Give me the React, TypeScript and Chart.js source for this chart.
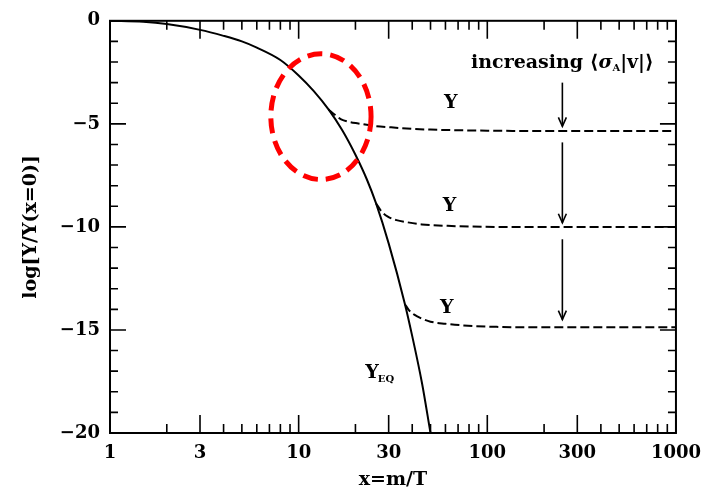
import React, { useEffect, useRef } from 'react';
import { Chart, registerables } from 'chart.js';
Chart.register(...registerables);

// Equilibrium curve Y_EQ
const xEq = [1, 1.5, 2, 3, 4, 5, 6, 8, 10, 12, 14.4, 17, 20, 23, 25.7, 30, 36.6, 40, 45, 50];
const yEq = [0, -0.05, -0.16, -0.44, -0.73, -1.0, -1.3, -1.9, -2.65, -3.4, -4.3, -5.3, -6.5, -7.7, -8.85, -10.8, -13.75, -15.3, -17.55, -20];

// Freeze-out curves Y (dashed)
const xY1 = [14.4, 15.5, 16.8, 18.5, 20.7, 25, 30.9, 40, 50, 69, 100, 200, 400, 1000];
const yY1 = [-4.3, -4.55, -4.78, -4.9, -4.98, -5.1, -5.17, -5.24, -5.28, -5.31, -5.33, -5.35, -5.35, -5.35];
const xY2 = [25.7, 27.5, 29.7, 33, 37.9, 45, 61.6, 80, 112, 200, 400, 1000];
const yY2 = [-8.85, -9.25, -9.5, -9.67, -9.78, -9.88, -9.95, -9.98, -10.0, -10.0, -10.0, -10.0];
const xY3 = [36.6, 38.5, 41, 45, 50, 60, 75, 112, 200, 400, 1000];
const yY3 = [-13.75, -14.05, -14.26, -14.45, -14.6, -14.7, -14.78, -14.85, -14.87, -14.87, -14.87];

// Axis ticks
const xMajorTicks = [1, 3, 10, 30, 100, 300, 1000];
const xMinorTicks = [2, 4, 5, 6, 7, 8, 9, 20, 40, 50, 60, 70, 80, 90, 200, 400, 500, 600, 700, 800, 900];
const yMajorTicks = [-20, -15, -10, -5, 0];
const yMinorTicks = [-19, -18, -17, -16, -14, -13, -12, -11, -9, -8, -7, -6, -4, -3, -2, -1];

// Annotation anchors (data coordinates)
const yLabelX = [64, 63, 61];
const yLabelY = [-4.0, -9.0, -13.95];
const yEqLabel = [24.5, -17.1];
const arrowX = 250;
const arrowFrom = [-3.0, -5.9, -10.6];
const arrowTo = [-5.12, -9.8, -14.5];
const textAnchor = [250, -2.06];
const ellipseX = [7.12, 24.2];
const ellipseY = [-1.6, -7.7];

const FONT = '"DejaVu Serif", "Liberation Serif", serif';

const toPts = (xs: number[], ys: number[]) => xs.map((v, i) => ({ x: v, y: ys[i] }));

const decorPlugin = {
  id: 'decor',
  afterDatasetsDraw(chart: any) {
    const { ctx, chartArea: a, scales } = chart;
    const xs = scales.x;
    const ys = scales.y;
    ctx.save();
    ctx.strokeStyle = '#000';
    ctx.fillStyle = '#000';
    ctx.lineWidth = 2;
    ctx.setLineDash([]);
    ctx.strokeRect(a.left, a.top, a.right - a.left, a.bottom - a.top);

    ctx.lineWidth = 1.6;
    const vTick = (v: number, len: number) => {
      const px = xs.getPixelForValue(v);
      ctx.beginPath();
      ctx.moveTo(px, a.bottom);
      ctx.lineTo(px, a.bottom - len);
      ctx.moveTo(px, a.top);
      ctx.lineTo(px, a.top + len);
      ctx.stroke();
    };
    const hTick = (v: number, len: number) => {
      const py = ys.getPixelForValue(v);
      ctx.beginPath();
      ctx.moveTo(a.left, py);
      ctx.lineTo(a.left + len, py);
      ctx.moveTo(a.right, py);
      ctx.lineTo(a.right - len, py);
      ctx.stroke();
    };
    xMajorTicks.forEach((v) => vTick(v, 18));
    xMinorTicks.forEach((v) => vTick(v, 9));
    yMajorTicks.forEach((v) => hTick(v, 16));
    yMinorTicks.forEach((v) => hTick(v, 8));

    // labels "Y"
    ctx.font = `bold 19px ${FONT}`;
    ctx.textAlign = 'center';
    ctx.textBaseline = 'middle';
    yLabelX.forEach((v, i) => {
      ctx.fillText('Y', xs.getPixelForValue(v), ys.getPixelForValue(yLabelY[i]));
    });

    // Y_EQ
    const ex = xs.getPixelForValue(yEqLabel[0]);
    const ey = ys.getPixelForValue(yEqLabel[1]);
    ctx.textAlign = 'left';
    ctx.font = `bold 19px ${FONT}`;
    const wY = ctx.measureText('Y').width;
    ctx.fillText('Y', ex - wY / 2, ey);
    ctx.font = `bold 10px ${FONT}`;
    ctx.fillText('EQ', ex + wY / 2 - 1, ey + 6);

    // increasing <sigma_A |v|>
    const parts = [
      { t: 'increasing \u27E8', f: `bold 19px ${FONT}`, dy: 0 },
      { t: '\u03C3', f: `italic bold 19px ${FONT}`, dy: 0 },
      { t: 'A', f: `bold 10px ${FONT}`, dy: 5 },
      { t: '|v|\u27E9', f: `bold 19px ${FONT}`, dy: 0 },
    ];
    let total = 0;
    parts.forEach((p) => {
      ctx.font = p.f;
      total += ctx.measureText(p.t).width;
    });
    let tx = xs.getPixelForValue(textAnchor[0]) - total / 2;
    const ty = ys.getPixelForValue(textAnchor[1]);
    parts.forEach((p) => {
      ctx.font = p.f;
      ctx.fillText(p.t, tx, ty + p.dy);
      tx += ctx.measureText(p.t).width;
    });

    // arrows
    const ax = xs.getPixelForValue(arrowX);
    ctx.lineWidth = 1.6;
    arrowFrom.forEach((v, i) => {
      const y0 = ys.getPixelForValue(v);
      const y1 = ys.getPixelForValue(arrowTo[i]);
      ctx.beginPath();
      ctx.moveTo(ax, y0);
      ctx.lineTo(ax, y1);
      ctx.stroke();
      ctx.beginPath();
      ctx.moveTo(ax - 4, y1 - 9);
      ctx.lineTo(ax, y1);
      ctx.lineTo(ax + 4, y1 - 9);
      ctx.stroke();
    });

    // red dashed ellipse
    const l = xs.getPixelForValue(ellipseX[0]);
    const r = xs.getPixelForValue(ellipseX[1]);
    const t = ys.getPixelForValue(ellipseY[0]);
    const b = ys.getPixelForValue(ellipseY[1]);
    ctx.strokeStyle = '#ff0000';
    ctx.lineWidth = 5;
    ctx.setLineDash([15, 8]);
    ctx.beginPath();
    ctx.ellipse((l + r) / 2, (t + b) / 2, (r - l) / 2, (b - t) / 2, 0, 0, Math.PI * 2);
    ctx.stroke();
    ctx.restore();
  },
};

export default function App() {
  const ref = useRef<HTMLCanvasElement>(null);
  useEffect(() => {
    const dashed = (xs: number[], ys: number[]) => ({
      data: toPts(xs, ys),
      borderColor: '#000',
      borderWidth: 2,
      borderDash: [9, 4],
      pointRadius: 0,
      cubicInterpolationMode: 'monotone' as const,
      fill: false,
    });
    const chart = new Chart(ref.current as HTMLCanvasElement, {
      type: 'line',
      data: {
        datasets: [
          {
            data: toPts(xEq, yEq),
            borderColor: '#000',
            borderWidth: 2,
            pointRadius: 0,
            cubicInterpolationMode: 'monotone',
            fill: false,
          },
          dashed(xY1, yY1),
          dashed(xY2, yY2),
          dashed(xY3, yY3),
        ],
      },
      options: {
        responsive: false,
        animation: false,
        devicePixelRatio: 1,
        layout: { padding: { top: 15, right: 31, left: 0, bottom: 0 } },
        plugins: { legend: { display: false }, tooltip: { enabled: false } },
        scales: {
          x: {
            type: 'logarithmic',
            min: 1,
            max: 1000,
            grid: { display: false, drawTicks: false },
            border: { display: false },
            afterBuildTicks: (s: any) => {
              s.ticks = xMajorTicks.map((v) => ({ value: v }));
            },
            afterFit: (s: any) => {
              s.height = 60;
            },
            ticks: {
              autoSkip: false,
              maxRotation: 0,
              padding: 10,
              color: '#000',
              font: { family: FONT, size: 18, weight: 'bold' },
              callback: (v: any) => String(v),
            },
            title: {
              display: true,
              text: 'x=m/T',
              color: '#000',
              font: { family: FONT, size: 19, weight: 'bold' },
              padding: { top: 0, bottom: 2 },
            },
          },
          y: {
            type: 'linear',
            min: -20,
            max: 0,
            grid: { display: false, drawTicks: false },
            border: { display: false },
            afterBuildTicks: (s: any) => {
              s.ticks = yMajorTicks.map((v) => ({ value: v }));
            },
            afterFit: (s: any) => {
              s.width = 110;
            },
            ticks: {
              padding: 10,
              color: '#000',
              font: { family: FONT, size: 18, weight: 'bold' },
              callback: (v: any) => (v === 0 ? '0' : '\u2212' + Math.abs(v)),
            },
            title: {
              display: true,
              text: 'log[Y/Y(x=0)]',
              color: '#000',
              font: { family: FONT, size: 19, weight: 'bold' },
              padding: { top: 20, bottom: 0 },
            },
          },
        },
      },
      plugins: [decorPlugin],
    });
    return () => chart.destroy();
  }, []);
  return (
    <div style={{ position: 'fixed', left: 0, top: 0, width: 711, height: 493, background: '#fff' }}>
      <canvas ref={ref} width={711} height={493} style={{ display: 'block' }} />
    </div>
  );
}
